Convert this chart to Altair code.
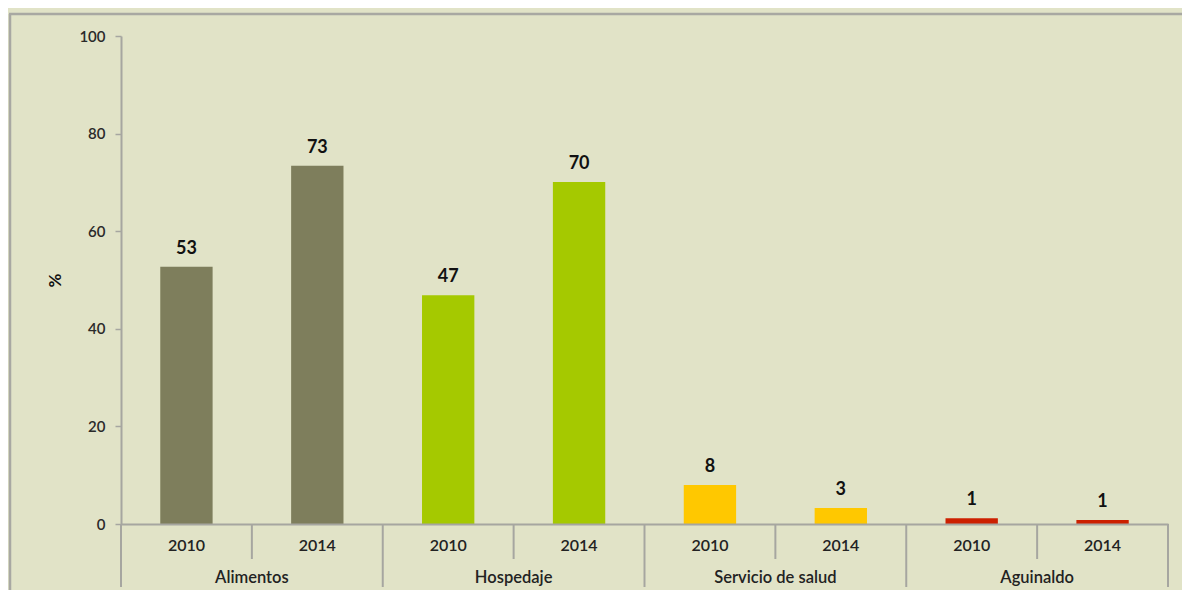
import altair as alt
import pandas as pd

categories = ["Alimentos", "Hospedaje", "Servicio de salud", "Aguinaldo"]
years = ["2010", "2014"]
values = [52.7, 73.4, 46.9, 70.1, 8.0, 3.3, 1.2, 0.8]
value_labels = ["53", "73", "47", "70", "8", "3", "1", "1"]
colors = ["#7e7e5c", "#a5c900", "#ffc800", "#cc2000"]
y_ticks = [0, 20, 40, 60, 80, 100]

W, H = 1047, 488
BG = "#e1e3c7"
FONT = "Lato"
GREY = "#a6a6a0"

rows = []
for g, cat in enumerate(categories):
    for k, yr in enumerate(years):
        i = g * len(years) + k
        rows.append({"cat": cat, "year": yr, "value": values[i], "label": value_labels[i],
                     "x0": i + 0.3, "x1": i + 0.7, "xc": i + 0.5})
df = pd.DataFrame(rows)

groups = pd.DataFrame({"cat": categories,
                       "xc": [g * len(years) + len(years) / 2 for g in range(len(categories))]})
n = len(categories) * len(years)
major = pd.DataFrame({"b": [g * len(years) for g in range(len(categories) + 1)]})
minor = pd.DataFrame({"b": [g * len(years) + k for g in range(len(categories)) for k in range(1, len(years))]})

xs = alt.Scale(domain=[0, n], nice=False, zero=False)
ys = alt.Scale(domain=[0, 100], nice=False)

bars = alt.Chart(df).mark_bar().encode(
    x=alt.X("x0:Q", scale=xs, axis=alt.Axis(labels=False, ticks=False, grid=False, title=None,
                                          domainColor=GREY, domainWidth=2, zindex=1)),
    x2="x1:Q",
    y=alt.Y("value:Q", scale=ys, axis=alt.Axis(values=y_ticks, grid=False, title="%",
                                              titleFont=FONT, titleFontSize=17, titleFontWeight="bold",
                                              titleColor="#111", titlePadding=14,
                                              labelFont=FONT, labelFontSize=15, labelColor="#2a2a2a",
                                              labelFontWeight=600,
                                              labelPadding=10, tickSize=6, tickColor=GREY,
                                              tickWidth=1.5, zindex=1,
                                              domainColor=GREY, domainWidth=2)),
    y2=alt.datum(0),
    color=alt.Color("cat:N", scale=alt.Scale(domain=categories, range=colors), legend=None),
)

vlabels = alt.Chart(df).mark_text(font=FONT, fontSize=18, fontWeight="bold", color="#111",
                                 baseline="bottom", dy=-9).encode(
    x=alt.X("xc:Q", scale=xs), y=alt.Y("value:Q", scale=ys), text="label:N")

year_text = alt.Chart(df).mark_text(font=FONT, fontSize=16, fontWeight=600, color="#222",
                                   baseline="middle").encode(
    x=alt.X("xc:Q", scale=xs), y=alt.value(H + 22), text="year:N")

group_text = alt.Chart(groups).mark_text(font=FONT, fontSize=16.5, fontWeight=600, color="#222",
                                        baseline="middle").encode(
    x=alt.X("xc:Q", scale=xs), y=alt.value(H + 54), text="cat:N")

major_rules = alt.Chart(major).mark_rule(color=GREY, strokeWidth=2).encode(
    x=alt.X("b:Q", scale=xs), y=alt.value(H), y2=alt.value(H + 63))
minor_rules = alt.Chart(minor).mark_rule(color=GREY, strokeWidth=2).encode(
    x=alt.X("b:Q", scale=xs), y=alt.value(H), y2=alt.value(H + 35))

frame_src = pd.DataFrame({"f": [0]})
frame_left = alt.Chart(frame_src).mark_rule(color="#a8a8a2", strokeWidth=2.5).encode(
    x=alt.value(-111), y=alt.value(-22), y2=alt.value(H + 90))
frame_top = alt.Chart(frame_src).mark_rule(color="#a8a8a2", strokeWidth=2.5).encode(
    x=alt.value(-112), x2=alt.value(W + 60), y=alt.value(-22))

chart = alt.layer(frame_left, frame_top, bars, vlabels, year_text, group_text,
                  major_rules, minor_rules).properties(
    width=W, height=H, background=BG,
    padding={"left": 113, "top": 28, "right": 14, "bottom": 66},
    autosize=alt.AutoSizeParams(type="none"),
).configure_view(stroke=None)

chart.save("out.html", embed_options={"renderer": "svg", "actions": False})
